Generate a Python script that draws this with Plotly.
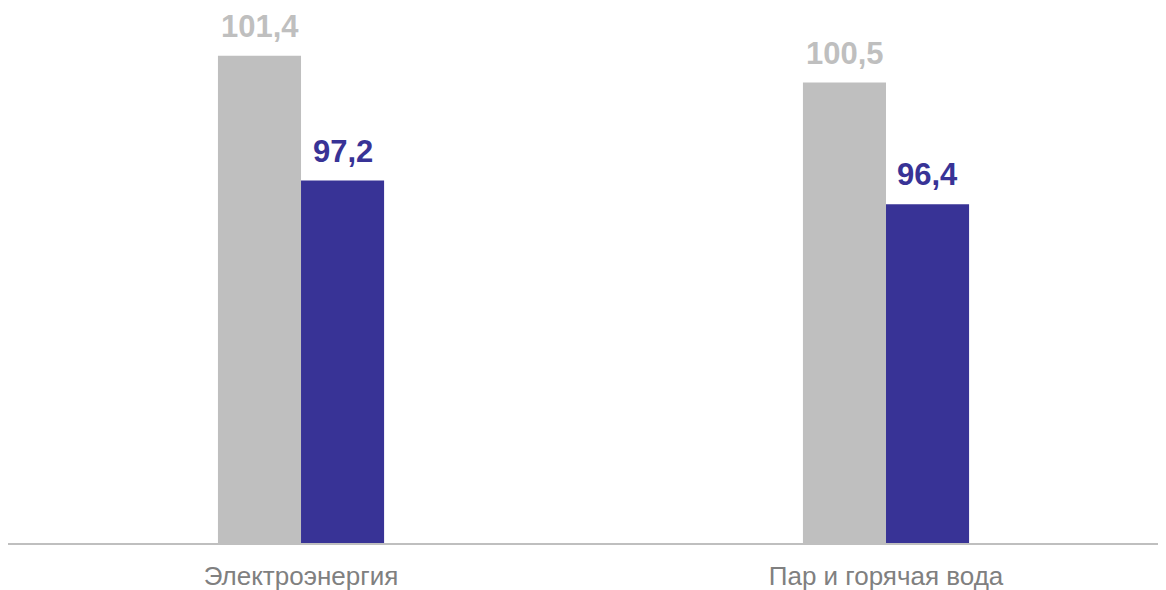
import plotly.graph_objects as go

categories = ["Электроэнергия", "Пар и горячая вода"]
series_prev = [101.4, 100.5]
series_curr = [97.2, 96.4]
labels_prev = ["101,4", "100,5"]
labels_curr = ["97,2", "96,4"]

GRAY = "#bfbfbf"
BLUE = "#383396"
FONT = "Arial, Liberation Sans, sans-serif"

fig = go.Figure()
fig.add_trace(go.Bar(x=categories, y=series_prev, marker=dict(color=GRAY, line=dict(width=0)),
                     showlegend=False, hoverinfo="skip"))
fig.add_trace(go.Bar(x=categories, y=series_curr, marker=dict(color=BLUE, line=dict(width=0)),
                     showlegend=False, hoverinfo="skip"))

for i, c in enumerate(categories):
    fig.add_annotation(x=i, y=series_prev[i], xshift=-41.5, text="<b>%s</b>" % labels_prev[i],
                       showarrow=False, yanchor="bottom", yshift=10,
                       font=dict(family=FONT, size=31, color=GRAY))
    fig.add_annotation(x=i, y=series_curr[i], xshift=41.5, text="<b>%s</b>" % labels_curr[i],
                       showarrow=False, yanchor="bottom", yshift=10,
                       font=dict(family=FONT, size=31, color=BLUE))

fig.update_layout(
    width=1166, height=590,
    margin=dict(l=0, r=0, t=29.5, b=54.5),
    paper_bgcolor="white", plot_bgcolor="white",
    barmode="group", bargap=0.716, bargroupgap=0,
    font=dict(family=FONT),
    xaxis=dict(range=[-0.5009, 1.4923], showline=True, linecolor=GRAY, linewidth=2,
               showgrid=False, ticks="", ticklabelstandoff=9,
               tickfont=dict(family=FONT, size=26, color="#808080")),
    yaxis=dict(range=[85, 102], visible=False, showgrid=False, zeroline=False),
)
fig.write_html("out.html")
